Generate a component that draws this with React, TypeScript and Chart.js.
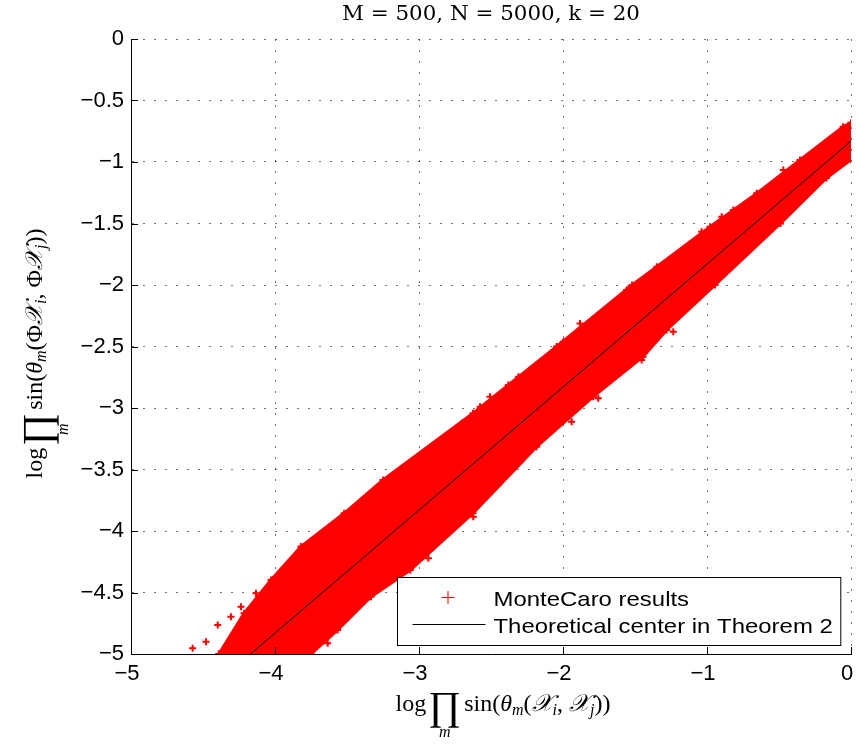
import React, { useEffect, useRef } from 'react';
import { Chart, registerables } from 'chart.js';

Chart.register(...registerables);

const TITLE = 'M = 500, N = 5000, k = 20';
const LABEL_MC = 'MonteCaro results';
const LABEL_TH = 'Theoretical center in Theorem 2';

const xTickValues = [-5, -4, -3, -2, -1, 0];
const yTickValues = [0, -0.5, -1, -1.5, -2, -2.5, -3, -3.5, -4, -4.5, -5];

// Theoretical center line
const theoryX = [-4.17, 0];
const theoryY = [-5, -0.83];

// Upper-left edge of the dense Monte Carlo cloud
const bandUpperX = [-4.39, -4.215, -4.028, -3.82, -3.52, -3.25, -2.625, -2.044, -1.52, -1.349, -0.979, -0.655, -0.354, -0.055, 0];
const bandUpperY = [-5.0, -4.669, -4.398, -4.127, -3.856, -3.585, -3.043, -2.5, -2.0, -1.851, -1.526, -1.255, -0.984, -0.713, -0.68];

// Lower-right edge of the dense Monte Carlo cloud
const bandLowerX = [-4.39, -3.75, -3.565, -3.333, -3.06, -2.625, -2.183, -1.79, -1.444, -1.28, -0.944, -0.49, -0.17, 0];
const bandLowerY = [-5.0, -5.0, -4.805, -4.534, -4.317, -3.856, -3.315, -2.908, -2.583, -2.366, -2.0, -1.5, -1.13, -0.98];

// Scattered individual Monte Carlo points near the cloud's edges
const outlierX = [-4.572, -4.479, -4.398, -4.306, -4.236, -4.132, -3.912, -3.796, -3.738, -3.611, -3.345, -3.178, -3.051, -2.704, -2.576, -2.507, -2.38, -2.31, -1.998, -1.882, -1.697, -1.558, -1.037, -0.898, -0.817, -0.47, -3.634, -3.519, -3.38, -2.935, -2.623, -1.94, -1.755, -1.454, -1.234];
const outlierY = [-4.954, -4.9, -4.764, -4.697, -4.615, -4.507, -4.344, -4.181, -4.114, -4.019, -3.721, -3.585, -3.531, -3.124, -2.989, -2.908, -2.813, -2.745, -2.461, -2.312, -2.23, -2.041, -1.567, -1.445, -1.39, -1.065, -4.913, -4.724, -4.534, -4.222, -3.884, -3.111, -2.921, -2.61, -2.38];

const pts = (xs: number[], ys: number[]) => xs.map((x, i) => ({ x, y: ys[i] }));
const fmt = (v: number) => (v < 0 ? '\u2212' + String(-v) : String(v));

const SERIF = '"Liberation Serif", serif';
const SANS = '"Liberation Sans", Arial, sans-serif';

type Run = { t?: string; f?: string; dy?: number; gap?: number; under?: { t: string; f: string; dy: number } };

const mainF = `24px ${SERIF}`;
const itF = `italic 24px ${SERIF}`;
const subF = `italic 16px ${SERIF}`;
const bigF = `40px ${SERIF}`;

const xLabelRuns: Run[] = [
  { t: 'log', f: mainF },
  { gap: 2 },
  { t: '\u220F', f: bigF, dy: 8, under: { t: 'm', f: subF, dy: 26 } },
  { gap: 3 },
  { t: 'sin(', f: mainF },
  { t: '\u03B8', f: itF },
  { t: 'm', f: subF, dy: 4 },
  { t: '(', f: mainF },
  { t: '\uD835\uDCB3', f: itF },
  { t: 'i', f: subF, dy: 4 },
  { t: ', ', f: mainF },
  { t: '\uD835\uDCB3', f: itF },
  { t: 'j', f: subF, dy: 4 },
  { t: '))', f: mainF },
];

const yLabelRuns: Run[] = [
  { t: 'log', f: mainF },
  { gap: 2 },
  { t: '\u220F', f: bigF, dy: 8, under: { t: 'm', f: subF, dy: 26 } },
  { gap: 3 },
  { t: 'sin(', f: mainF },
  { t: '\u03B8', f: itF },
  { t: 'm', f: subF, dy: 4 },
  { t: '(\u03A6', f: mainF },
  { t: '\uD835\uDCB3', f: itF },
  { t: 'i', f: subF, dy: 4 },
  { t: ', \u03A6', f: mainF },
  { t: '\uD835\uDCB3', f: itF },
  { t: 'j', f: subF, dy: 4 },
  { t: '))', f: mainF },
];

function runWidth(ctx: CanvasRenderingContext2D, r: Run) {
  if (r.gap) return r.gap;
  ctx.font = r.f!;
  return ctx.measureText(r.t!).width;
}

function drawMath(ctx: CanvasRenderingContext2D, runs: Run[], cx: number, by: number) {
  const total = runs.reduce((s, r) => s + runWidth(ctx, r), 0);
  let x = cx - total / 2;
  ctx.textAlign = 'left';
  ctx.textBaseline = 'alphabetic';
  ctx.fillStyle = '#000';
  for (const r of runs) {
    const w = runWidth(ctx, r);
    if (r.t) {
      ctx.font = r.f!;
      ctx.fillText(r.t, x, by + (r.dy || 0));
      if (r.under) {
        ctx.font = r.under.f;
        const uw = ctx.measureText(r.under.t).width;
        ctx.fillText(r.under.t, x + (w - uw) / 2, by + r.under.dy);
      }
    }
    x += w;
  }
}

// text drawn slightly stretched horizontally, as in the reference bitmap
function stretchedText(ctx: CanvasRenderingContext2D, t: string, x: number, y: number, sx: number, align: CanvasTextAlign) {
  ctx.save();
  ctx.translate(x, y);
  ctx.scale(sx, 1);
  ctx.textAlign = align;
  ctx.fillText(t, 0, 0);
  ctx.restore();
}

const overlayPlugin = {
  id: 'overlay',
  afterDraw(chart: any) {
    const { ctx, chartArea: a, scales } = chart;
    ctx.save();
    // inward tick marks (MATLAB style)
    ctx.strokeStyle = '#000';
    ctx.lineWidth = 1;
    ctx.beginPath();
    for (const v of xTickValues) {
      const px = Math.round(scales.x.getPixelForValue(v)) + 0.5;
      ctx.moveTo(px, a.bottom);
      ctx.lineTo(px, a.bottom - 7);
    }
    for (const v of yTickValues) {
      const py = Math.round(scales.y.getPixelForValue(v)) + 0.5;
      ctx.moveTo(a.left, py);
      ctx.lineTo(a.left + 7, py);
    }
    ctx.stroke();

    // title
    ctx.fillStyle = '#000';
    ctx.font = `20px "DejaVu Serif", serif`;
    ctx.textBaseline = 'alphabetic';
    stretchedText(ctx, TITLE, (a.left + a.right) / 2, 20, 1.07, 'center');

    // axis labels
    drawMath(ctx, xLabelRuns, (a.left + a.right) / 2 + 12, 711);
    ctx.save();
    ctx.translate(42, (a.top + a.bottom) / 2 + 7);
    ctx.rotate(-Math.PI / 2);
    drawMath(ctx, yLabelRuns, 0, 0);
    ctx.restore();

    // legend
    const sx = 1.14;
    ctx.font = `21px ${SANS}`;
    const tw = Math.max(ctx.measureText(LABEL_MC).width, ctx.measureText(LABEL_TH).width) * sx;
    const bw = 96 + tw + 8;
    const bh = 68;
    const bx = Math.round(a.right - 11 - bw) + 0.5;
    const byy = Math.round(a.bottom - 9 - bh) + 0.5;
    ctx.fillStyle = '#fff';
    ctx.fillRect(bx, byy, bw, bh);
    ctx.strokeStyle = '#000';
    ctx.lineWidth = 1;
    ctx.strokeRect(bx, byy, bw, bh);
    const r1 = byy + 20;
    const r2 = byy + 47;
    // row 1: red plus marker
    ctx.strokeStyle = '#f00';
    ctx.beginPath();
    ctx.moveTo(bx + 44, r1);
    ctx.lineTo(bx + 57, r1);
    ctx.moveTo(bx + 50.5, r1 - 6.5);
    ctx.lineTo(bx + 50.5, r1 + 6.5);
    ctx.stroke();
    // row 2: black line
    ctx.strokeStyle = '#000';
    ctx.beginPath();
    ctx.moveTo(bx + 15, r2);
    ctx.lineTo(bx + 88, r2);
    ctx.stroke();
    ctx.fillStyle = '#000';
    stretchedText(ctx, LABEL_MC, bx + 96, r1 + 8, sx, 'left');
    stretchedText(ctx, LABEL_TH, bx + 96, r2 + 8, sx, 'left');
    ctx.restore();
  },
};

export default function App() {
  const ref = useRef<HTMLCanvasElement | null>(null);
  useEffect(() => {
    if (!ref.current) return;
    const gridColor = 'rgba(0,0,0,0.55)';
    const edgeStyle = {
      showLine: true,
      borderColor: '#f00',
      borderWidth: 3,
      pointStyle: 'cross',
      pointRadius: 3.5,
      pointBorderWidth: 2,
      pointBorderColor: '#f00',
      order: 2,
      clip: 0,
    };
    const chart = new Chart(ref.current, {
      type: 'line',
      data: {
        datasets: [
          {
            label: LABEL_TH,
            data: pts(theoryX, theoryY),
            borderColor: '#000',
            borderWidth: 1,
            pointRadius: 0,
            showLine: true,
            fill: false,
            order: 0,
            clip: 0,
          } as any,
          {
            label: LABEL_MC,
            data: pts(outlierX, outlierY),
            showLine: false,
            pointStyle: 'cross',
            pointRadius: 3.5,
            pointBorderWidth: 2,
            pointBorderColor: '#f00',
            pointBackgroundColor: '#f00',
            order: 1,
            clip: 0,
          },
          {
            ...edgeStyle,
            label: LABEL_MC + ' (lower edge)',
            data: pts(bandLowerX, bandLowerY),
            fill: false,
          },
          {
            ...edgeStyle,
            label: LABEL_MC + ' (upper edge)',
            data: pts(bandUpperX, bandUpperY),
            backgroundColor: '#f00',
            fill: 2,
          },
        ],
      },
      options: {
        responsive: false,
        animation: false,
        events: [],
        layout: { padding: { left: 0, right: 9, top: 39, bottom: 0 } },
        plugins: {
          legend: { display: false },
          tooltip: { enabled: false },
          title: { display: false },
        },
        scales: {
          x: {
            type: 'linear',
            min: -5,
            max: 0,
            afterFit: (s: any) => {
              s.height = 90;
              s.paddingLeft = 0;
              s.paddingRight = 0;
            },
            afterBuildTicks: (s: any) => {
              s.ticks = xTickValues.map((v) => ({ value: v }));
            },
            ticks: {
              autoSkip: false,
              maxRotation: 0,
              padding: 7,
              labelOffset: -4,
              color: '#000',
              font: { family: SANS, size: 22 },
              callback: (v: any) => fmt(Number(v)),
            },
            grid: { drawTicks: false, color: gridColor, lineWidth: 1 },
            border: { display: true, color: '#000', width: 1, dash: [2, 9] },
          },
          y: {
            type: 'linear',
            min: -5,
            max: 0,
            afterFit: (s: any) => {
              s.width = 131;
              s.paddingTop = 0;
              s.paddingBottom = 0;
            },
            afterBuildTicks: (s: any) => {
              s.ticks = yTickValues.map((v) => ({ value: v }));
            },
            ticks: {
              autoSkip: false,
              padding: 7,
              color: '#000',
              font: { family: SANS, size: 22 },
              callback: (v: any) => fmt(Number(v)),
            },
            grid: { drawTicks: false, color: gridColor, lineWidth: 1 },
            border: { display: true, color: '#000', width: 1, dash: [2, 9] },
          },
        },
      },
      plugins: [overlayPlugin],
    });
    return () => chart.destroy();
  }, []);
  return (
    <div style={{ position: 'absolute', left: 0, top: 0, width: 860, height: 744, background: '#fff' }}>
      <canvas ref={ref} width={860} height={744} style={{ display: 'block' }} />
    </div>
  );
}
